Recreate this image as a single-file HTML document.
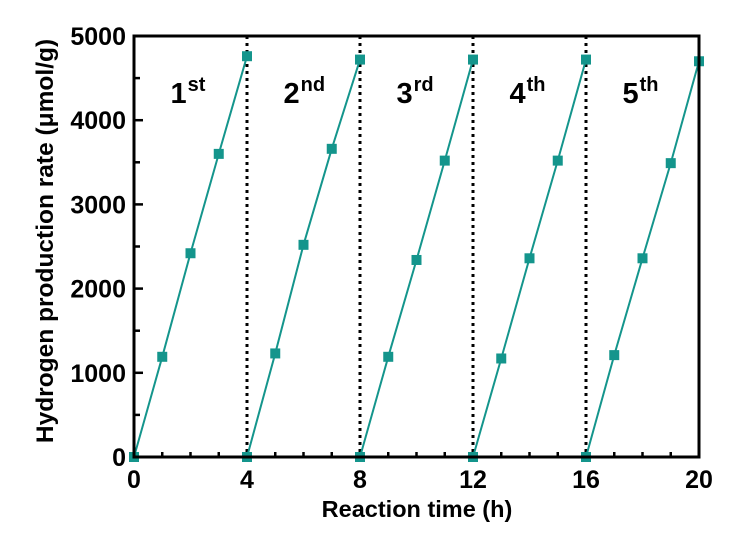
<!DOCTYPE html>
<html><head><meta charset="utf-8"><style>
html,body{margin:0;padding:0;background:#fff;}
svg text{font-family:"Liberation Sans",Arial,sans-serif;font-weight:bold;fill:#000;}
</style></head><body>
<svg id="chart" width="741" height="544" viewBox="0 0 741 544"></svg>
<script>
const cycleLabels=["1","2","3","4","5"];
const cycleSuffix=["st","nd","rd","th","th"];
const hoursInCycle=[0,1,2,3,4];
const cycle1=[0,1190,2420,3600,4760];
const cycle2=[0,1230,2520,3660,4720];
const cycle3=[0,1190,2340,3520,4720];
const cycle4=[0,1170,2360,3520,4720];
const cycle5=[0,1210,2360,3490,4700];
const cycles=[cycle1,cycle2,cycle3,cycle4,cycle5];
const xTicks=[0,4,8,12,16,20];
const yTicks=[0,1000,2000,3000,4000,5000];

const L=134,R=699,T=36,B=457;
const X=v=>L+(v/20)*(R-L);
const Y=v=>B-(v/5000)*(B-T);
const svg=document.getElementById('chart');
const NS='http://www.w3.org/2000/svg';
function mk(tag,attrs,parent){const e=document.createElementNS(NS,tag);for(const k in attrs)e.setAttribute(k,attrs[k]);(parent||svg).appendChild(e);return e;}

for(let i=1;i<5;i++){
  const l=mk('line',{x1:X(i*4),x2:X(i*4),y1:T,y2:B,stroke:'#000','stroke-width':3,'stroke-dasharray':'3,4'});
  
  
}
for(let v=0;v<=20;v++){
  const t=mk('line',{x1:X(v),x2:X(v),y1:B,y2:B-(v%4===0?8:5),stroke:'#000','stroke-width':2.5});
  
  
}
for(let v=0;v<=5000;v+=500){
  const t=mk('line',{x1:L,x2:L+(v%1000===0?9:6),y1:Y(v),y2:Y(v),stroke:'#000','stroke-width':2.5});
  
  
}
xTicks.forEach(v=>{
  const t=mk('text',{x:X(v),y:488,'text-anchor':'middle','font-size':25});
  t.textContent=v;
  
  
});
yTicks.forEach(v=>{
  const t=mk('text',{x:126,y:Y(v)+9,'text-anchor':'end','font-size':25});
  t.textContent=v;
  
  
});
cycles.forEach((c,ci)=>{
  const g=mk('g',{});
  
  
  const pts=c.map((v,i)=>X(ci*4+hoursInCycle[i])+','+Y(v)).join(' ');
  const pl=mk('polyline',{points:pts,fill:'none',stroke:'#14958c','stroke-width':2},g);
  
  
  c.forEach((v,i)=>{
    const r=mk('rect',{x:X(ci*4+hoursInCycle[i])-5,y:Y(v)-5,width:10,height:10,fill:'#14958c'},g);
    
    
  });
  const t=mk('text',{x:X(ci*4+2)-20,y:103,'font-size':29});
  t.innerHTML=cycleLabels[ci]+'<tspan dx="1" dy="-12" font-size="20">'+cycleSuffix[ci]+'</tspan>';
  
  
});
const f=mk('rect',{x:L,y:T,width:R-L,height:B-T,fill:'none',stroke:'#000','stroke-width':3});


const xt=mk('text',{x:417,y:517,'text-anchor':'middle','font-size':23.5});
xt.textContent='Reaction time (h)';


const yt=mk('text',{x:0,y:0,'text-anchor':'middle','font-size':24.5,transform:'translate(53,241) rotate(-90)'});
yt.textContent='Hydrogen production rate  (μmol/g)';


</script>
</body></html>
